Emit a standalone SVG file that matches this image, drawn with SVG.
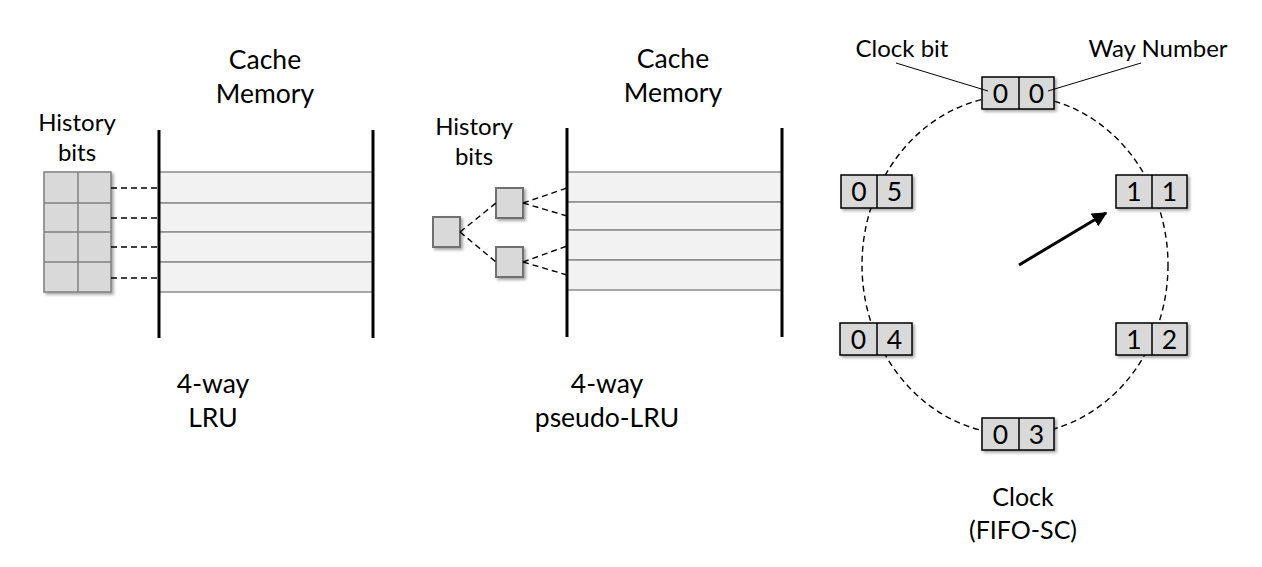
<svg xmlns="http://www.w3.org/2000/svg" width="1262" height="567" viewBox="0 0 1262 567">
<style>
text{font-family:Lato,"Liberation Sans",sans-serif;fill:#000;text-anchor:middle}
.t26{font-size:26.5px}
.t25{font-size:25px}
.t24{font-size:24px}
.dg{font-size:26.5px}
.wall{stroke:#000;stroke-width:3;fill:none}
.row{fill:#f2f2f2;stroke:#8c8c8c;stroke-width:1.5}
.hb{fill:#d9d9d9;stroke:#7f7f7f;stroke-width:1.5}
.sq{fill:#d9d9d9;stroke:#6f6f6f;stroke-width:2}
.cb{fill:#d9d9d9;stroke:#000;stroke-width:1.5}
.dash{stroke:#000;stroke-width:1.4;stroke-dasharray:6 4;fill:none}
.lead{stroke:#000;stroke-width:1;fill:none}
</style>
<defs>
<filter id="sh" x="-20%" y="-20%" width="150%" height="150%">
<feDropShadow dx="2" dy="2" stdDeviation="1.5" flood-color="#000" flood-opacity="0.35"/>
</filter>
<marker id="ah" viewBox="0 0 10 10" refX="9" refY="5" markerWidth="5" markerHeight="5" orient="auto">
<path d="M0,0 L10,5 L0,10 z" fill="#000"/>
</marker>
</defs>

<!-- Panel 1: 4-way LRU -->
<g id="lru-cache">
<text class="t26" x="265" y="69">Cache</text>
<text class="t26" x="265" y="103">Memory</text>
<rect class="row" x="159" y="172" width="214" height="31"/>
<rect class="row" x="159" y="203" width="214" height="29"/>
<rect class="row" x="159" y="232" width="214" height="30"/>
<rect class="row" x="159" y="262" width="214" height="30"/>
<line class="wall" x1="159" y1="130" x2="159" y2="338"/>
<line class="wall" x1="373" y1="130" x2="373" y2="338"/>
</g>
<g id="lru-history">
<text class="t24" x="77" y="131">History</text>
<text class="t24" x="77" y="161">bits</text>
<g filter="url(#sh)">
<rect class="hb" x="44" y="172" width="67" height="120"/>
</g>
<line class="hb" x1="78" y1="172" x2="78" y2="292"/>
<line class="hb" x1="44" y1="203" x2="111" y2="203"/>
<line class="hb" x1="44" y1="232" x2="111" y2="232"/>
<line class="hb" x1="44" y1="262" x2="111" y2="262"/>
</g>
<g id="lru-label">
<text class="t26" x="213" y="393">4-way</text>
<text class="t26" x="213" y="427">LRU</text>
</g>

<!-- Panel 2: pseudo-LRU -->
<g id="plru-cache">
<text class="t26" x="673" y="68">Cache</text>
<text class="t26" x="673" y="102">Memory</text>
<rect class="row" x="567" y="172" width="215" height="30"/>
<rect class="row" x="567" y="202" width="215" height="28"/>
<rect class="row" x="567" y="230" width="215" height="30"/>
<rect class="row" x="567" y="260" width="215" height="30"/>
<line class="wall" x1="567" y1="128" x2="567" y2="337"/>
<line class="wall" x1="782" y1="128" x2="782" y2="337"/>
</g>
<g id="plru-history">
<text class="t24" x="474" y="135">History</text>
<text class="t24" x="474" y="165">bits</text>
<rect class="sq" x="433" y="217" width="27" height="30" filter="url(#sh)"/>
<rect class="sq" x="496" y="188" width="27" height="30" filter="url(#sh)"/>
<rect class="sq" x="496" y="247" width="27" height="30" filter="url(#sh)"/>
</g>
<g id="plru-label">
<text class="t26" x="607" y="393">4-way</text>
<text class="t26" x="607" y="427">pseudo-LRU</text>
</g>

<!-- Connectors (below boxes) -->
<g id="connectors">
<line class="dash" x1="111" y1="188" x2="159" y2="188"/>
<line class="dash" x1="111" y1="218" x2="159" y2="218"/>
<line class="dash" x1="111" y1="247" x2="159" y2="247"/>
<line class="dash" x1="111" y1="278" x2="159" y2="278"/>
<line class="dash" x1="460" y1="232" x2="496" y2="203"/>
<line class="dash" x1="460" y1="232" x2="496" y2="262"/>
<line class="dash" x1="523" y1="203" x2="567" y2="188"/>
<line class="dash" x1="523" y1="203" x2="567" y2="216"/>
<line class="dash" x1="523" y1="262" x2="567" y2="246"/>
<line class="dash" x1="523" y1="262" x2="567" y2="275"/>
<ellipse class="dash" cx="1015" cy="265" rx="153" ry="169.5"/>
<line x1="1019" y1="265" x2="1106" y2="213" stroke="#000" stroke-width="3" marker-end="url(#ah)"/>
</g>

<!-- Panel 3: Clock -->
<g id="clock-labels">
<text class="t24" x="902" y="57">Clock bit</text>
<text class="t24" x="1158" y="57">Way Number</text>
</g>
<g id="way0">
<rect class="cb" x="982" y="77" width="72" height="32" filter="url(#sh)"/>
<line class="cb" x1="1019" y1="77" x2="1019" y2="109"/>
<text class="dg" x="1000.5" y="102.5">0</text>
<text class="dg" x="1036.5" y="102.5">0</text>
</g>
<g id="way1">
<rect class="cb" x="1116" y="175" width="71" height="33" filter="url(#sh)"/>
<line class="cb" x1="1152" y1="175" x2="1152" y2="208"/>
<text class="dg" x="1134" y="201">1</text>
<text class="dg" x="1169.5" y="201">1</text>
</g>
<g id="way2">
<rect class="cb" x="1116" y="323" width="71" height="32" filter="url(#sh)"/>
<line class="cb" x1="1152" y1="323" x2="1152" y2="355"/>
<text class="dg" x="1134" y="348.5">1</text>
<text class="dg" x="1169.5" y="348.5">2</text>
</g>
<g id="way3">
<rect class="cb" x="982" y="418" width="72" height="32" filter="url(#sh)"/>
<line class="cb" x1="1019" y1="418" x2="1019" y2="450"/>
<text class="dg" x="1000.5" y="443.5">0</text>
<text class="dg" x="1036.5" y="443.5">3</text>
</g>
<g id="way4">
<rect class="cb" x="840" y="323" width="72" height="32" filter="url(#sh)"/>
<line class="cb" x1="877" y1="323" x2="877" y2="355"/>
<text class="dg" x="858.5" y="348.5">0</text>
<text class="dg" x="894.5" y="348.5">4</text>
</g>
<g id="way5">
<rect class="cb" x="841" y="175" width="71" height="33" filter="url(#sh)"/>
<line class="cb" x1="877" y1="175" x2="877" y2="208"/>
<text class="dg" x="859" y="201">0</text>
<text class="dg" x="894.5" y="201">5</text>
</g>
<g id="leaders">
<line class="lead" x1="896" y1="63" x2="988" y2="91"/>
<line class="lead" x1="1141" y1="63" x2="1048" y2="91"/>
</g>
<g id="clock-label">
<text class="t25" x="1023" y="506">Clock</text>
<text class="t25" x="1023" y="539">(FIFO-SC)</text>
</g>
</svg>
